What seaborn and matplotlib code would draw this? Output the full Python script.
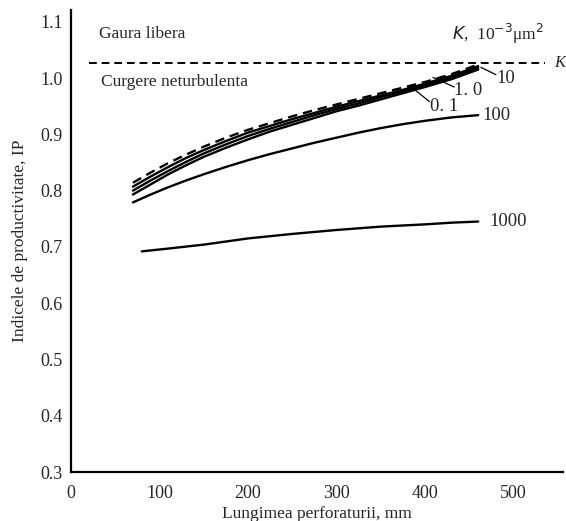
import numpy as np
import pandas as pd
import matplotlib
matplotlib.use('Agg')
from matplotlib import pyplot as plt
import seaborn as sns
sns.set_style('white')

# perforation length, mm
length = [70, 90, 110, 130, 150, 175, 200, 225, 250, 275, 300, 325, 350, 375, 400, 430, 460]
# productivity index for each permeability (10^-3 um^2)
ip_dashed = [0.814, 0.832, 0.849, 0.864, 0.878, 0.894, 0.908, 0.920, 0.932, 0.943, 0.953, 0.963, 0.973, 0.983, 0.993, 1.007, 1.024]
ip_01 = [0.807, 0.825, 0.842, 0.858, 0.872, 0.888, 0.903, 0.915, 0.927, 0.938, 0.949, 0.959, 0.969, 0.979, 0.990, 1.004, 1.021]
ip_1 = [0.800, 0.818, 0.835, 0.851, 0.866, 0.882, 0.897, 0.910, 0.922, 0.934, 0.945, 0.955, 0.966, 0.976, 0.987, 1.001, 1.018]
ip_10 = [0.793, 0.811, 0.829, 0.845, 0.860, 0.876, 0.891, 0.905, 0.917, 0.929, 0.941, 0.951, 0.962, 0.973, 0.984, 0.998, 1.015]
ip_100 = [0.779, 0.793, 0.806, 0.818, 0.829, 0.842, 0.854, 0.865, 0.875, 0.885, 0.894, 0.903, 0.911, 0.918, 0.924, 0.930, 0.934]
length_1000 = [80, 110, 150, 200, 250, 300, 350, 400, 430, 460]
ip_1000 = [0.692, 0.697, 0.704, 0.715, 0.723, 0.730, 0.736, 0.740, 0.743, 0.745]
k_free = 1.027

series = {'dashed': (length, ip_dashed), '0.1': (length, ip_01), '1.0': (length, ip_1),
          '10': (length, ip_10), '100': (length, ip_100), '1000': (length_1000, ip_1000)}
df = pd.concat([pd.DataFrame({'L': x, 'IP': y, 'K': k}) for k, (x, y) in series.items()])
df['kind'] = np.where(df['K'] == 'dashed', 'dash', 'solid')

plt.rcParams['font.family'] = ['Liberation Serif', 'DejaVu Serif']
fig = plt.figure(figsize=(5.66, 5.21), dpi=100)
ax = fig.add_axes([0.1254, 0.094, 0.8696, 0.887])

sns.lineplot(data=df, x='L', y='IP', hue='K', style='kind',
             palette=['black'] * 6, dashes={'dash': (4, 2.5), 'solid': ''},
             linewidth=1.7, legend=False, ax=ax, sort=False)
ax.plot([20, 536], [k_free, k_free], color='black', lw=1.4, ls=(0, (4, 2.5)))

ax.set_xlim(0, 556)
ax.set_ylim(0.3, 1.121)
ax.set_xticks([0, 100, 200, 300, 400, 500])
ax.set_yticks(np.arange(0.3, 1.11, 0.1))
ax.set_yticklabels(['{:.1f}'.format(v) for v in np.arange(0.3, 1.11, 0.1)])
ax.tick_params(direction='in', length=5, width=1.3, labelsize=13, pad=6)
ax.tick_params(axis='x', pad=9)
for s in ['top', 'right']:
    ax.spines[s].set_visible(False)
for s in ['left', 'bottom']:
    ax.spines[s].set_linewidth(1.6)
    ax.spines[s].set_color('black')

ax.set_xlabel('Lungimea perforaturii, mm', fontsize=12.5, labelpad=3)
ax.set_ylabel('Indicele de productivitate, IP', fontsize=12.5, labelpad=9)

ax.text(32, 1.078, 'Gaura libera', fontsize=12.5, va='center')
ax.text(34, 0.993, 'Curgere neturbulenta', fontsize=12.5, va='center')
ax.text(430, 1.078, r'$K$,  10$^{-3}$μm$^2$', fontsize=12.5, va='center')
ax.text(546, k_free, 'K', fontsize=12, style='italic', va='center')

lab = dict(fontsize=13.5, va='center')
ax.plot([463, 480], [1.019, 1.006], color='black', lw=0.9)
ax.text(481, 0.999, '10', **lab)
ax.plot([409, 433], [1.001, 0.984], color='black', lw=0.9)
ax.text(433, 0.977, '1. 0', **lab)
ax.plot([383, 405], [0.986, 0.958], color='black', lw=0.9)
ax.text(406, 0.950, '0. 1', **lab)
ax.text(465, 0.934, '100', **lab)
ax.text(473, 0.745, '1000', **lab)

fig.savefig('out.png', dpi=100)
